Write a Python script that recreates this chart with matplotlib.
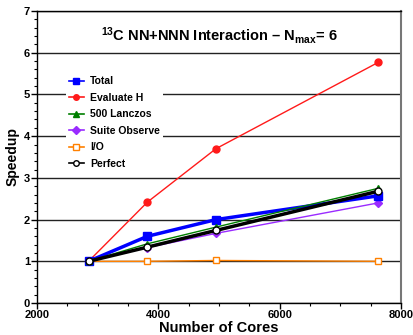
import matplotlib
matplotlib.use("Agg")
import matplotlib.pyplot as plt
from matplotlib.ticker import MultipleLocator

plt.rcParams['font.family'] = ['Liberation Sans', 'DejaVu Sans']
plt.rcParams['font.weight'] = 'bold'
plt.rcParams['mathtext.fontset'] = 'custom'
plt.rcParams['mathtext.rm'] = 'Liberation Sans:bold'
plt.rcParams['mathtext.bf'] = 'Liberation Sans:bold'
plt.rcParams['mathtext.default'] = 'bf'

# number of cores and speedups
cores = [2850, 3820, 4950, 7625]
total = [1.0, 1.6, 2.0, 2.57]
evaluate_h = [1.0, 2.42, 3.7, 5.77]
lanczos = [1.0, 1.42, 1.82, 2.75]
suite_observe = [1.0, 1.33, 1.67, 2.4]
io = [1.0, 1.0, 1.02, 1.0]
perfect = [1.0, 1.34, 1.74, 2.68]

fig = plt.figure(figsize=(4.14, 3.35), dpi=100)
ax = fig.add_axes([0.0894, 0.0955, 0.8792, 0.8715])

# series, drawn from bottom to top
ax.plot(cores, io, color='#ff8000', lw=1, marker='s', ms=5, mfc='white',
        mec='#ff8000', mew=1, label='I/O', zorder=3)
ax.plot(cores, evaluate_h, color='#ff1a1a', lw=1, marker='o', ms=5,
        label='Evaluate H', zorder=3)
ax.plot(cores, suite_observe, color='#9a2bff', lw=1, marker='D', ms=4,
        label='Suite Observe', zorder=3)
ax.plot(cores, total, color='#0000ff', lw=2.5, marker='s', ms=6,
        label='Total', zorder=4)
ax.plot(cores, lanczos, color='#007f00', lw=1, marker='^', ms=5,
        label='500 Lanczos', zorder=5)
ax.plot(cores, perfect, color='black', lw=2.5, marker='o', ms=5, mfc='white',
        mec='black', mew=1, label='Perfect', zorder=6)

ax.set_xlim(2000, 8000)
ax.set_ylim(0, 7)
ax.xaxis.set_major_locator(MultipleLocator(2000))
ax.xaxis.set_minor_locator(MultipleLocator(500))
ax.yaxis.set_major_locator(MultipleLocator(1))
ax.yaxis.set_minor_locator(MultipleLocator(0.2))
ax.tick_params(which='major', direction='out', length=4, width=1,
               labelsize=8, pad=1)
ax.tick_params(which='minor', direction='out', length=2, width=0.8)
ax.grid(axis='y', which='major', color='#222222', lw=1)
ax.set_axisbelow(True)

for s in ['left', 'bottom', 'top']:
    ax.spines[s].set_color('black')
    ax.spines[s].set_linewidth(1)
ax.spines['right'].set_color('#777777')
ax.spines['right'].set_linewidth(1.5)

ax.set_xlabel('Number of Cores', fontsize=10.5, fontweight='bold', labelpad=1)
ax.set_ylabel('Speedup', fontsize=10, fontweight='bold', labelpad=3)

ax.text(0.5, 0.915, r'$^{13}$C NN+NNN Interaction – N$_{max}$= 6',
        transform=ax.transAxes, ha='center', va='center', fontsize=10.5,
        fontweight='bold')

handles, labels = ax.get_legend_handles_labels()
order = ['Total', 'Evaluate H', '500 Lanczos', 'Suite Observe', 'I/O', 'Perfect']
hmap = dict(zip(labels, handles))
leg = ax.legend([hmap[k] for k in order], order, loc='upper left',
                bbox_to_anchor=(0.065, 0.805), frameon=True, framealpha=1,
                edgecolor='white', fancybox=False,
                handlelength=1.4, handletextpad=0.6, labelspacing=0.62,
                borderpad=0.3, prop={'weight': 'bold', 'size': 7.5})
leg.get_frame().set_linewidth(0)
for line in leg.get_lines():
    line.set_linewidth(1.2)
    line.set_markersize(4)

fig.savefig('out.png', dpi=100)
